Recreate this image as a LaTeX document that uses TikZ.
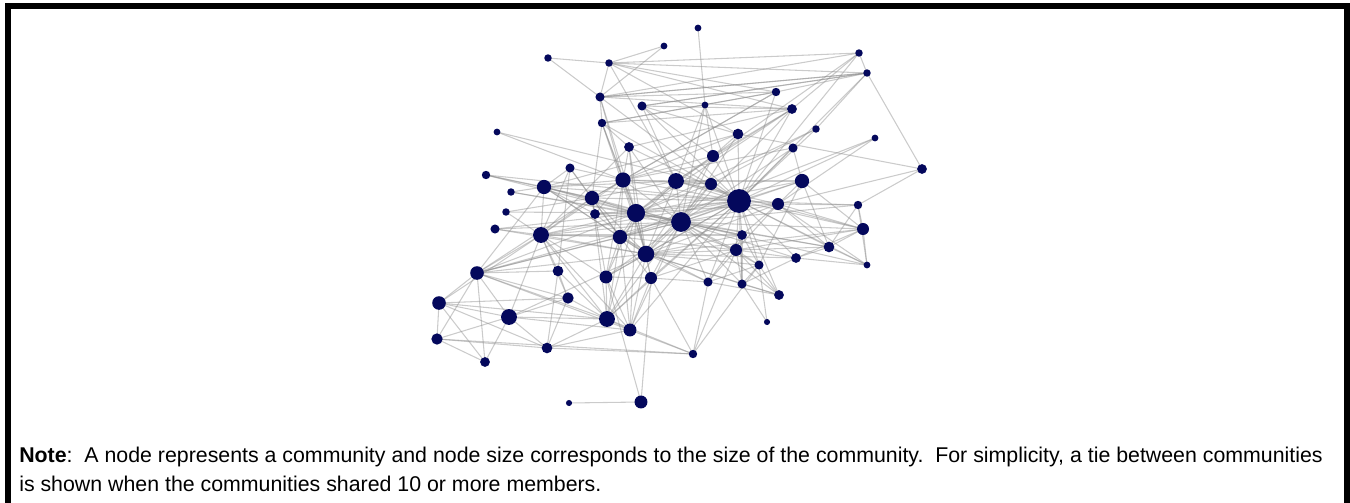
\documentclass[tikz,border=0pt]{standalone}
\usepackage{fontspec}
\setmainfont{Liberation Sans}
\usetikzlibrary{backgrounds}
\definecolor{navy}{RGB}{4,8,92}
\definecolor{tie}{RGB}{140,140,140}
\tikzset{
  nd/.style={circle,fill=navy,draw=none,inner sep=0pt},
  edge/.style={draw=tie,line width=0.8pt,opacity=0.45},
  frameline/.style={line width=4.5pt,line join=miter}
}
\newcommand\cn[4]{\node[nd,minimum size=#4*1.7pt] (n#1) at (#2,#3) {};}
\begin{document}
\begin{tikzpicture}[x=0.75pt,y=-0.75pt]
\useasboundingbox (0,0) rectangle (1350,503);
\draw[frameline] (8,503) -- (8,6) -- (1347,6) -- (1347,503);
% nodes
\cn{1}{698}{28}{3}
\cn{2}{548}{58}{3.3}
\cn{3}{664}{46}{3}
\cn{4}{609}{63}{3.3}
\cn{5}{859}{53}{3.3}
\cn{6}{867}{73}{3.3}
\cn{7}{600}{97}{4}
\cn{8}{642}{106}{4}
\cn{9}{705}{105}{3}
\cn{10}{776}{92}{3.7}
\cn{11}{792}{109}{4.3}
\cn{12}{602}{123}{3.7}
\cn{13}{497}{132}{3}
\cn{14}{816}{129}{3.3}
\cn{15}{738}{134}{4.7}
\cn{16}{875}{138}{3}
\cn{17}{629}{147}{4.3}
\cn{18}{793}{148}{4}
\cn{19}{713}{156}{5.3}
\cn{20}{570}{168}{4}
\cn{21}{922}{169}{4.3}
\cn{22}{486}{175}{3.7}
\cn{23}{544}{187}{6.3}
\cn{24}{623}{180}{6.7}
\cn{25}{676}{181}{7}
\cn{26}{711}{184}{5.3}
\cn{27}{802}{181}{6.3}
\cn{28}{739}{201}{10.5}
\cn{29}{511}{192}{3.3}
\cn{30}{592}{198}{6.3}
\cn{31}{595}{214}{4.3}
\cn{32}{636}{213}{8}
\cn{33}{681}{222}{8.7}
\cn{34}{778}{204}{5.3}
\cn{35}{858}{205}{3.7}
\cn{36}{506}{212}{3.3}
\cn{37}{495}{229}{4}
\cn{38}{541}{235}{7}
\cn{39}{620}{237}{6.3}
\cn{40}{742}{235}{4.3}
\cn{41}{863}{229}{5.3}
\cn{42}{646}{254}{7.3}
\cn{43}{736}{250}{5.3}
\cn{44}{829}{247}{4.7}
\cn{45}{796}{258}{4.3}
\cn{46}{759}{265}{4}
\cn{47}{867}{265}{3}
\cn{48}{477}{273}{6}
\cn{49}{558}{271}{4.7}
\cn{50}{606}{277}{5.7}
\cn{51}{651}{278}{5.3}
\cn{52}{708}{282}{4}
\cn{53}{742}{284}{4}
\cn{54}{779}{295}{4.3}
\cn{55}{568}{298}{5}
\cn{56}{439}{303}{6}
\cn{57}{509}{317}{7}
\cn{58}{607}{319}{7}
\cn{59}{630}{330}{5.7}
\cn{60}{437}{339}{5}
\cn{61}{767}{322}{2.7}
\cn{62}{547}{348}{4.7}
\cn{63}{485}{362}{4.3}
\cn{64}{693}{354}{3.7}
\cn{65}{569}{403}{2.7}
\cn{66}{641}{402}{5.7}
% ties
\begin{scope}[on background layer]
\foreach \a/\b in {
1/9, 2/4, 2/7, 3/4, 3/7,
4/7, 4/10, 4/11, 4/25, 4/6, 4/15, 4/5,
5/11, 5/6, 5/19, 5/28, 7/5, 7/6, 8/6, 12/11, 12/10,
6/21, 6/14, 6/10, 6/7, 6/8, 6/28,
7/10, 7/11, 7/12, 7/24, 7/28, 7/32,
8/15, 8/19, 8/25, 8/28, 8/11,
9/19, 9/28, 9/25, 9/33,
10/28, 10/12, 10/24, 10/30,
11/28, 11/25, 11/32, 11/33, 11/17, 11/19,
12/17, 12/24, 12/30, 12/28, 12/32, 12/42,
13/26, 13/24,
14/28, 14/26, 14/32,
15/21, 15/28, 15/24, 15/23, 15/33, 15/19,
16/28, 16/34, 16/39,
17/24, 17/32, 17/28, 17/33, 17/42, 17/38,
18/28, 18/33, 18/24, 18/27,
19/28, 19/33, 19/32, 19/24, 19/25, 19/42,
20/23, 20/30, 20/39, 20/24, 20/38, 20/49,
21/35, 21/34,
22/23, 22/28, 22/32, 22/30,
23/30, 23/32, 23/33, 23/28, 23/24, 23/25, 23/38, 23/42, 23/39, 23/48, 23/31,
24/25, 24/28, 24/32, 24/33, 24/30, 24/39, 24/42, 24/26, 24/38, 24/31, 24/50,
25/28, 25/32, 25/33, 25/26, 25/42, 25/39, 25/30, 25/34, 25/27, 25/41,
26/28, 26/33, 26/32, 26/42,
27/28, 27/33, 27/34, 27/41, 27/44, 27/32, 27/46,
28/32, 28/33, 28/34, 28/35, 28/41, 28/42, 28/43, 28/40, 28/44, 28/45, 28/46, 28/47,
28/39, 28/38, 28/30, 28/31, 28/50, 28/51, 28/52, 28/53, 28/54, 28/58, 28/59, 28/48,
29/23, 29/32, 29/33,
30/31, 30/32, 30/33, 30/38, 30/39, 30/42, 30/48, 30/50, 30/58,
31/32, 31/33, 31/42,
32/33, 32/38, 32/39, 32/42, 32/43, 32/48, 32/50, 32/51, 32/58, 32/59, 32/40, 32/34, 32/44,
33/38, 33/39, 33/42, 33/43, 33/40, 33/34, 33/41, 33/44, 33/45, 33/46, 33/50, 33/51,
33/52, 33/53, 33/58, 33/59, 33/35, 33/47, 33/54,
34/35, 34/41, 34/40, 34/43, 34/42, 34/44, 34/47,
35/41, 35/47, 35/44,
36/38, 36/32, 36/30,
37/38, 37/33, 37/32, 37/42,
38/39, 38/42, 38/48, 38/49, 38/56, 38/57, 38/58, 38/50, 38/59, 38/55, 38/40,
39/42, 39/50, 39/51, 39/58, 39/59, 39/43, 39/52,
40/42, 40/43, 40/46, 40/52, 40/53,
41/44, 41/47, 41/43, 41/45, 41/42,
42/50, 42/51, 42/58, 42/59, 42/43, 42/46, 42/52, 42/53, 42/54, 42/48, 42/57, 42/45,
43/46, 43/52, 43/53, 43/54, 43/45, 43/51, 43/44,
44/47, 44/45, 45/47, 45/53,
46/54, 46/52, 46/53, 46/61, 46/64, 43/64,
48/56, 48/57, 48/60, 48/63, 48/58, 48/59, 48/33, 48/39, 48/55, 48/49,
49/58, 49/55, 49/62,
50/58, 50/59, 50/51, 50/66,
51/58, 51/59, 51/52, 51/64, 51/66,
52/54, 52/64, 53/54, 53/61,
55/57, 55/62, 55/58, 55/56,
56/57, 56/60, 56/58, 56/63, 56/62,
57/58, 57/62, 57/59, 57/60, 57/63,
58/59, 58/62, 58/64, 59/64, 59/62,
60/63, 60/62, 60/64, 62/64, 65/66}
  \draw[edge] (n\a.center) -- (n\b.center);
\end{scope}
% note
\node[anchor=base west,align=left,inner sep=0pt,font=\fontsize{16}{21.75}\selectfont] (note) at (19,491)
 {\textbf{Note}:\ \ A node represents a community and node size corresponds to the size of the community.\ \ For simplicity, a tie between communities\\
 is shown when the communities shared 10 or more members.};
\end{tikzpicture}
\end{document}
